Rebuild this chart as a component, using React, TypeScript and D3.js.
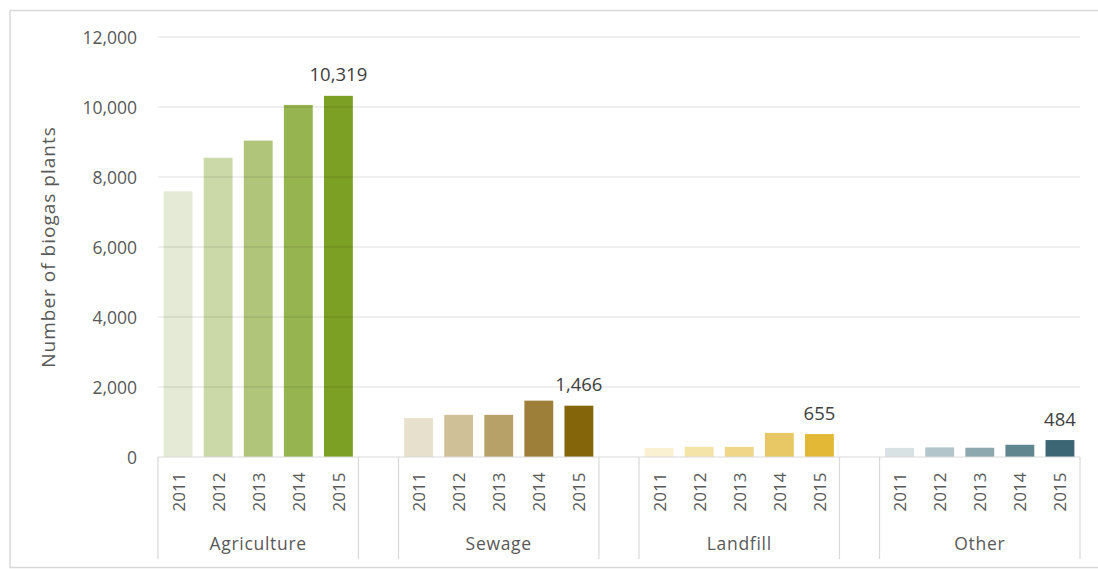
import React from "react";
import * as d3 from "d3";

const categories = ["Agriculture", "Sewage", "Landfill", "Other"];
const years = ["2011", "2012", "2013", "2014", "2015"];
const agriculture = [7590, 8550, 9040, 10060, 10319];
const sewage = [1110, 1205, 1205, 1610, 1466];
const landfill = [260, 290, 290, 690, 655];
const other = [260, 275, 265, 350, 484];
const seriesValues = [agriculture, sewage, landfill, other];
const yTicks = [0, 2000, 4000, 6000, 8000, 10000, 12000];
const palettes = [
  ["#e4ead5", "#cbd9a8", "#b0c57a", "#96b450", "#7ca024"],
  ["#e7e0cc", "#d0c098", "#b7a168", "#9d7f39", "#85650a"],
  ["#faf0d2", "#f4e4a8", "#f0d689", "#e8c864", "#e3b836"],
  ["#d8e1e4", "#b2c5cb", "#8ea8b0", "#608690", "#3d6674"],
];

const W = 1098;
const H = 569;
const FONT = "'Open Sans', Lato, sans-serif";
const TXT = "#595959";

export default function App() {
  // slots: 5 years per category, a blank slot between categories
  const slots: string[] = [];
  categories.forEach((c, ci) => {
    years.forEach((y) => slots.push(`${c}|${y}`));
    if (ci < categories.length - 1) slots.push(`gap${ci}`);
  });
  const x = d3.scaleBand<string>().domain(slots).range([158, 1080]).padding(0);
  const y = d3.scaleLinear().domain([0, 12000]).range([457, 37]);
  const bw = x.bandwidth() * 0.72;
  const fmt = d3.format(",");
  const base = y(0);
  const axisBottom = 559;

  // group boundaries
  const bounds: number[] = [];
  slots.forEach((s, i) => {
    const x0 = x(s)!;
    if (i === 0 || s.startsWith("gap") || slots[i - 1].startsWith("gap")) bounds.push(x0);
  });
  bounds.push(x.range()[1]);

  return (
    <svg width={W} height={H} style={{ position: "absolute", left: 0, top: 0 }} fontFamily={FONT}>
      <rect x={0} y={0} width={W} height={H} fill="#fff" />
      <rect x={10} y={10.5} width={W + 10} height={557} fill="none" stroke="#d9d9d9" strokeWidth={1.5} />

      {/* bars */}
      {categories.map((c, ci) =>
        years.map((yr, yi) => {
          const key = `${c}|${yr}`;
          const cx = x(key)! + x.bandwidth() / 2;
          const v = seriesValues[ci][yi];
          return (
            <rect key={key} x={cx - bw / 2} y={y(v)} width={bw} height={base - y(v)} fill={palettes[ci][yi]} />
          );
        })
      )}

      {/* gridlines */}
      {yTicks.filter((t) => t > 0).map((t) => (
        <line key={t} x1={158} x2={1080} y1={y(t)} y2={y(t)} stroke="rgba(0,0,0,0.13)" strokeWidth={1.2} />
      ))}
      {/* baseline */}
      <line x1={158} x2={1080} y1={base} y2={base} stroke="#d9d9d9" strokeWidth={1.2} />

      {/* y tick labels */}
      {yTicks.map((t) => (
        <text key={t} x={137} y={y(t)} textAnchor="end" dominantBaseline="central" fontSize={17.5} fill={TXT}>
          {fmt(t)}
        </text>
      ))}

      {/* axis title */}
      <text
        transform={`translate(48,247) rotate(-90)`}
        textAnchor="middle"
        dominantBaseline="central"
        fontSize={19}
        letterSpacing={1}
        fill={TXT}
      >
        Number of biogas plants
      </text>

      {/* data labels on last year */}
      {categories.map((c, ci) => {
        const key = `${c}|${years[years.length - 1]}`;
        const cx = x(key)! + x.bandwidth() / 2;
        const v = seriesValues[ci][years.length - 1];
        return (
          <text key={c} x={cx} y={y(v) - 22} textAnchor="middle" dominantBaseline="central" fontSize={18.5} fill="#404040">
            {fmt(v)}
          </text>
        );
      })}

      {/* year labels */}
      {categories.map((c) =>
        years.map((yr) => {
          const key = `${c}|${yr}`;
          const cx = x(key)! + x.bandwidth() / 2;
          return (
            <text
              key={key}
              transform={`translate(${cx},492) rotate(-90)`}
              textAnchor="middle"
              dominantBaseline="central"
              fontSize={17}
              fill={TXT}
            >
              {yr}
            </text>
          );
        })
      )}

      {/* group boundary lines */}
      {bounds.map((bx, i) => (
        <line key={i} x1={bx} x2={bx} y1={base} y2={axisBottom} stroke="#d9d9d9" strokeWidth={1.2} />
      ))}

      {/* category labels */}
      {categories.map((c) => {
        const x0 = x(`${c}|${years[0]}`)!;
        const x1 = x(`${c}|${years[years.length - 1]}`)! + x.bandwidth();
        return (
          <text key={c} x={(x0 + x1) / 2} y={543} textAnchor="middle" dominantBaseline="central" fontSize={17.5} letterSpacing={0.7} fill={TXT}>
            {c}
          </text>
        );
      })}
    </svg>
  );
}
